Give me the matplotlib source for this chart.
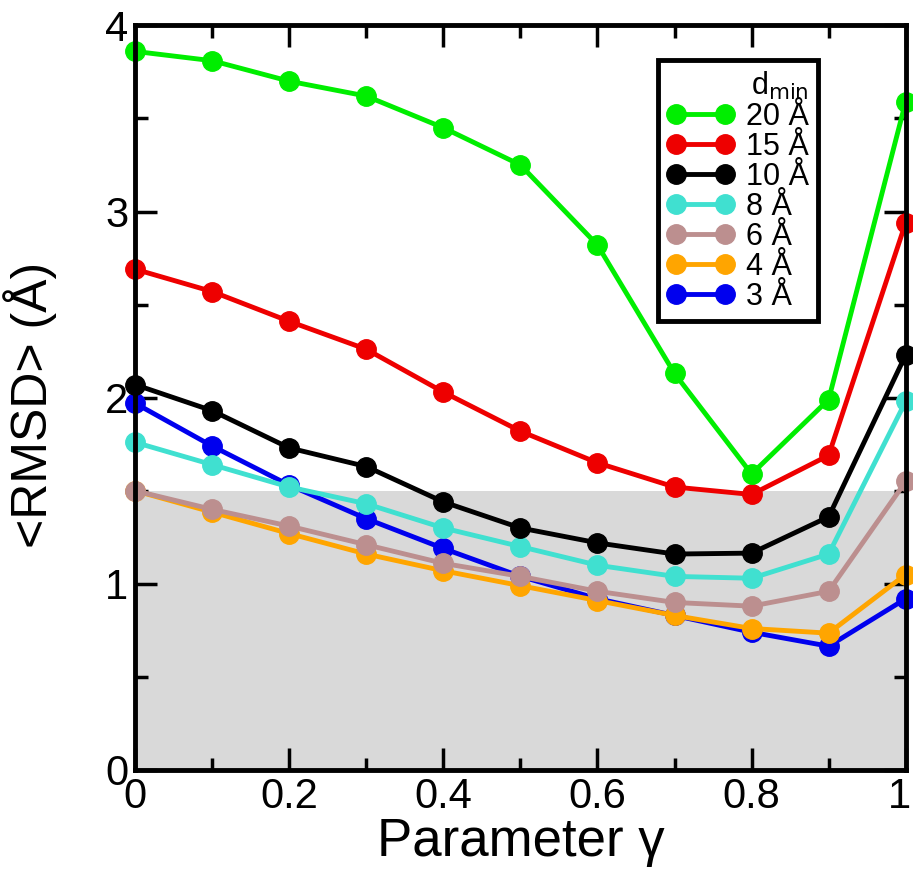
import numpy as np
import matplotlib
matplotlib.use("Agg")
from matplotlib import pyplot as plt
from matplotlib.ticker import MultipleLocator
from matplotlib import transforms

plt.rcParams['font.family'] = ['Liberation Sans', 'DejaVu Sans']

# gamma values
gamma = [0.0, 0.1, 0.2, 0.3, 0.4, 0.5, 0.6, 0.7, 0.8, 0.9, 1.0]

# <RMSD> for each d_min
rmsd_20 = [3.86, 3.81, 3.70, 3.62, 3.45, 3.25, 2.82, 2.13, 1.59, 1.99, 3.59]
rmsd_15 = [2.69, 2.57, 2.41, 2.26, 2.03, 1.82, 1.65, 1.52, 1.48, 1.69, 2.94]
rmsd_10 = [2.07, 1.93, 1.73, 1.63, 1.44, 1.30, 1.22, 1.16, 1.165, 1.36, 2.23]
rmsd_8 = [1.76, 1.64, 1.52, 1.43, 1.30, 1.20, 1.10, 1.04, 1.03, 1.16, 1.98]
rmsd_6 = [1.50, 1.40, 1.31, 1.21, 1.11, 1.04, 0.96, 0.90, 0.88, 0.96, 1.55]
rmsd_4 = [1.50, 1.385, 1.27, 1.16, 1.07, 0.99, 0.91, 0.83, 0.76, 0.735, 1.05]
rmsd_3 = [1.97, 1.74, 1.53, 1.35, 1.19, 1.04, 0.92, 0.83, 0.74, 0.665, 0.92]

labels = ['20 Å', '15 Å', '10 Å', '8 Å', '6 Å', '4 Å', '3 Å']
colors = ['#00ee00', '#ee0000', '#000000', '#40e0d0', '#bc8f8f', '#ffa500', '#0000ee']
series = [rmsd_20, rmsd_15, rmsd_10, rmsd_8, rmsd_6, rmsd_4, rmsd_3]

fig = plt.figure(figsize=(9.13, 8.74), dpi=100)
ax = fig.add_axes([0.148, 0.119, 0.844, 0.852])

# shaded region below 1.5 A
ax.axhspan(0, 1.5, color='#d9d9d9', zorder=0, lw=0)

# draw from the bottom of the legend up so green ends on top
for vals, lab, col in reversed(list(zip(series, labels, colors))):
    ax.plot(gamma, vals, '-o', color=col, lw=3.5, ms=14, label=lab, clip_on=False)

ax.set_xlim(0, 1)
ax.set_ylim(0, 4)
ax.set_xticks([0, 0.2, 0.4, 0.6, 0.8, 1.0])
ax.set_xticklabels(['0', '0.2', '0.4', '0.6', '0.8', '1'])
ax.set_yticks([0, 1, 2, 3, 4])
ax.set_yticklabels(['0', '1', '2', '3', '4'])
ax.xaxis.set_minor_locator(MultipleLocator(0.1))
ax.yaxis.set_minor_locator(MultipleLocator(0.5))
ax.tick_params(which='both', direction='in', top=True, right=True, width=2.5)
ax.tick_params(which='major', length=16, labelsize=30, pad=5)
ax.tick_params(which='minor', length=9)
for s in ax.spines.values():
    s.set_linewidth(3.5)

# nudge the last x label so it stays inside the figure
last = ax.get_xticklabels()[-1]
last.set_transform(last.get_transform() +
                   transforms.ScaledTranslation(-6 / 100, 0, fig.dpi_scale_trans))

ax.set_xlabel('Parameter γ', fontsize=38, labelpad=0)
ax.set_ylabel('<RMSD> (Å)', fontsize=36)
ax.yaxis.set_label_coords(-0.101, 0.49)

h, l = ax.get_legend_handles_labels()
leg = ax.legend(h[::-1], l[::-1], title='d$_{\\rm min}$', loc='upper left',
                bbox_to_anchor=(0.678, 0.953), borderaxespad=0, fontsize=22,
                title_fontsize=22, numpoints=2, handlelength=2.2, handletextpad=0.4,
                labelspacing=0.0, borderpad=0.3, fancybox=False, framealpha=1,
                edgecolor='black', alignment='right')
leg.get_frame().set_linewidth(3.5)

fig.savefig('out.png', dpi=100)
